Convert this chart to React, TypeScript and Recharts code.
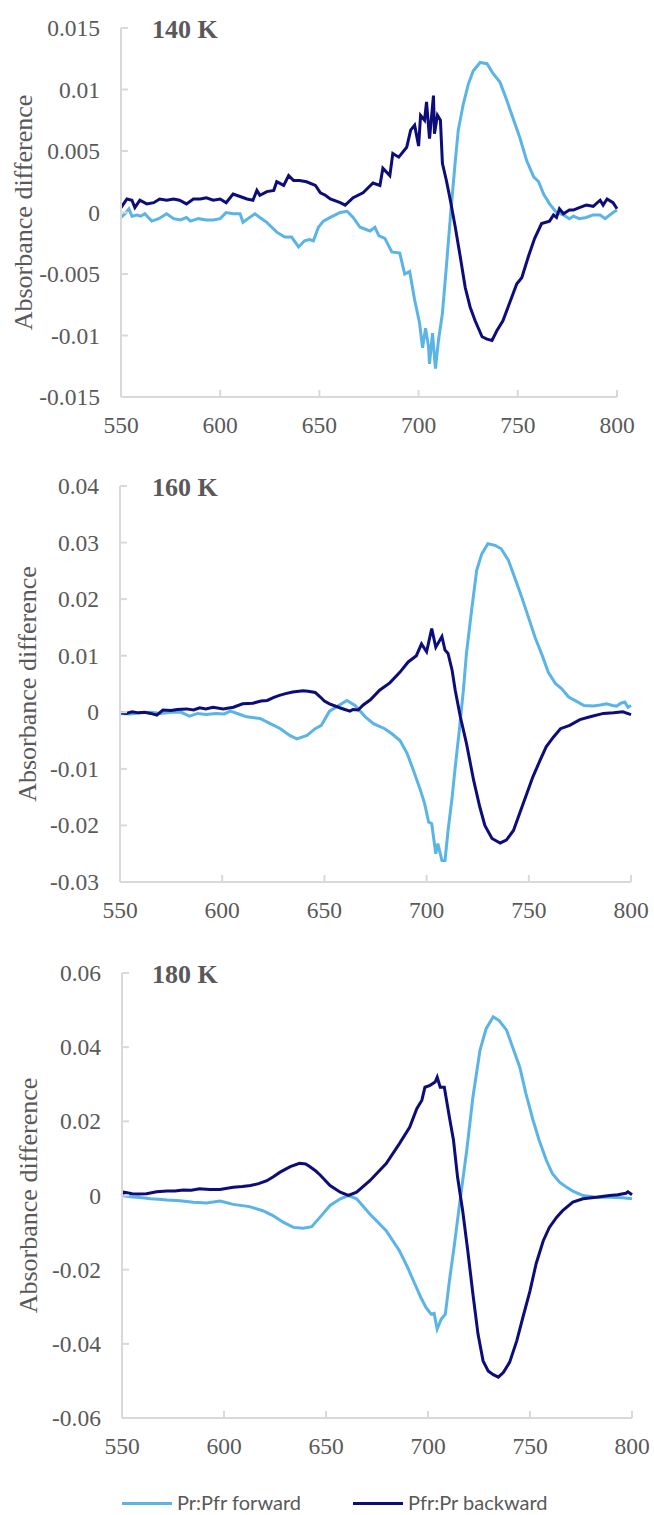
import { Line, LineChart, XAxis, YAxis } from "recharts";

const LIGHT = "#5AB4E6";
const NAVY = "#0C0C7A";
const TEXT = "#595959";
const AXIS = "#D9D9D9";
const SERIF = "'Liberation Serif', 'Times New Roman', serif";
const SANS = "Lato, 'Open Sans', sans-serif";

const xTicks = [550, 600, 650, 700, 750, 800];
const yTicks140 = [-0.015, -0.01, -0.005, 0, 0.005, 0.01, 0.015];
const yTicks160 = [-0.03, -0.02, -0.01, 0, 0.01, 0.02, 0.03, 0.04];
const yTicks180 = [-0.06, -0.04, -0.02, 0, 0.02, 0.04, 0.06];

// 140 K
const fwd140Nm = [
  550, 552, 554, 555.5, 558, 560, 562, 565.5, 569, 573, 576.5, 580, 583, 585,
  589, 593, 596.5, 600, 603, 606.5, 610, 611.5, 614, 617.5, 620, 623.5, 626,
  628.5, 632.5, 636, 639.5, 642.5, 645, 647, 649.5, 652, 655.5, 660.5, 664, 667,
  670.5, 675.5, 678, 680, 683, 686.5, 690.5, 693, 695.5, 698, 700.5, 702, 703.5,
  705, 705.5, 707, 708.5, 710, 712, 714, 716, 718.5, 720, 722.5, 725, 727.5, 731,
  734.5, 737.5, 741, 744.5, 747.5, 751, 754.5, 758, 760.5, 763, 766, 769.5, 773,
  776, 778, 781, 784.5, 788, 791.5, 794, 798, 800,
];
const fwd140 = [
  -0.0004, -0.0001, 0.0003, -0.0003, -0.0002, -0.0003, -0.0001, -0.0007, -0.0005,
  -0.0001, -0.0005, -0.0006, -0.0004, -0.0007, -0.0005, -0.0006, -0.0006, -0.0005,
  0, -0.0001, -0.0001, -0.0008, -0.0005, -0.0001, -0.0004, -0.0008, -0.0012,
  -0.0016, -0.002, -0.002, -0.0028, -0.0023, -0.0022, -0.0023, -0.0012, -0.0007,
  -0.0004, 0, 0.0001, -0.0004, -0.0012, -0.0015, -0.0012, -0.0019, -0.0021,
  -0.0032, -0.0033, -0.005, -0.0048, -0.0071, -0.009, -0.011, -0.0094, -0.0109,
  -0.0123, -0.0098, -0.0127, -0.0104, -0.0082, -0.0044, -0.0004, 0.0042, 0.0067,
  0.0088, 0.0104, 0.0115, 0.0122, 0.0121, 0.0113, 0.0106, 0.0091, 0.0077, 0.0061,
  0.0042, 0.0029, 0.0025, 0.0015, 0.0007, 0, -0.0002, -0.0005, -0.0003, -0.0005,
  -0.0004, -0.0002, -0.0002, -0.0005, 0, 0.0002,
];
const bwd140Nm = [
  550, 553, 555.5, 557, 559.5, 563, 566.5, 569.5, 573, 576.5, 579.5, 583, 586.5,
  590, 593, 596.5, 600, 603, 606.5, 610, 613.5, 616.5, 618.5, 620, 623.5, 627,
  628.5, 632, 634.5, 637, 640, 643.5, 648, 650.5, 653, 655.5, 660.5, 663, 667,
  672, 677, 680.5, 682, 685.5, 687, 690, 694, 696, 698, 700, 701, 703, 704,
  705.5, 707.5, 708, 709.5, 711, 712, 714, 716, 718.5, 721, 723.5, 726, 728.5,
  732, 734.5, 737, 739.5, 742.5, 746, 749.5, 752, 755.5, 758.5, 762, 766, 768,
  769.5, 771, 773, 776, 778, 781, 784.5, 788, 791.5, 793, 795, 798, 800,
];
const bwd140 = [
  0.0004, 0.0011, 0.001, 0.0004, 0.001, 0.0007, 0.0008, 0.0011, 0.001, 0.0011,
  0.001, 0.0007, 0.0011, 0.0011, 0.0012, 0.001, 0.0011, 0.0008, 0.0015, 0.0013,
  0.0011, 0.001, 0.0018, 0.0014, 0.0017, 0.0018, 0.0025, 0.0022, 0.003, 0.0026,
  0.0026, 0.0025, 0.0022, 0.0016, 0.0014, 0.0011, 0.0008, 0.0006, 0.0012, 0.0016,
  0.0024, 0.0022, 0.0036, 0.003, 0.0048, 0.0045, 0.0053, 0.0067, 0.0071, 0.0054,
  0.0079, 0.0075, 0.009, 0.006, 0.0095, 0.0064, 0.0079, 0.0075, 0.004, 0.0026,
  0.001, -0.0012, -0.0036, -0.0061, -0.0077, -0.0088, -0.0101, -0.0103, -0.0104,
  -0.0096, -0.0088, -0.0073, -0.0058, -0.0053, -0.0035, -0.0021, -0.0009, -0.0007,
  -0.0002, -0.0004, 0.0003, -0.0001, 0.0002, 0.0002, 0.0004, 0.0006, 0.0005,
  0.001, 0.0006, 0.0011, 0.0008, 0.0003,
];

// 160 K
const fwd160Nm = [
  550, 555, 560, 565, 570, 575, 580, 584, 588, 592, 597, 601, 604, 608, 612,
  618.5, 623.5, 628.5, 633, 636.5, 641.5, 645.5, 648.5, 652.5, 657, 661, 665,
  670, 674, 679.5, 683, 687, 690.5, 693.5, 697, 699, 701, 702.5, 704.5, 705.5,
  707.5, 709, 710.5, 712.5, 714, 716, 718, 719.5, 722, 724.5, 727, 730, 733.5,
  736.5, 740, 743, 746.5, 750, 753, 756.5, 759.5, 763, 766, 769.5, 772.5, 777,
  781.5, 785, 788, 791, 793, 795, 797, 798.5, 800,
];
const fwd160 = [
  -0.0002, -0.0003, -0.0001, 0, -0.0002, 0, 0, -0.0007, -0.0002, -0.0004, -0.0002,
  -0.0003, 0.0002, -0.0003, -0.0008, -0.0011, -0.002, -0.0029, -0.0041, -0.0047,
  -0.0041, -0.0029, -0.0023, 0.0002, 0.0012, 0.0021, 0.0012, -0.0008, -0.002,
  -0.0029, -0.0038, -0.005, -0.0073, -0.0102, -0.0138, -0.0161, -0.0194, -0.0197,
  -0.025, -0.0232, -0.0262, -0.0262, -0.0209, -0.015, -0.0097, -0.0032, 0.0039,
  0.0104, 0.018, 0.0251, 0.028, 0.0298, 0.0295, 0.0289, 0.0269, 0.0239, 0.0204,
  0.0166, 0.0133, 0.0101, 0.0071, 0.0051, 0.0042, 0.0027, 0.0021, 0.0012, 0.0011,
  0.0013, 0.0015, 0.0012, 0.0011, 0.0016, 0.0018, 0.0009, 0.0012,
];
const bwd160Nm = [
  550, 553, 556, 559, 562, 565, 568, 571, 575, 578, 582.5, 586, 589, 592, 595.5,
  600.5, 605.5, 610, 615, 619, 622, 625, 628, 631, 634.5, 639.5, 642, 645.5, 648,
  650, 652.5, 657.5, 660, 662.5, 664, 666.5, 669, 672.5, 677, 682, 687, 691, 695,
  697.5, 700, 702.5, 704.5, 707.5, 709, 710.5, 712.5, 714, 716.5, 719.5, 723, 726,
  728.5, 732, 736, 739, 742.5, 745.5, 749, 752, 755.5, 758.5, 762, 765.5, 770,
  775, 780, 786.5, 791.5, 796, 800,
];
const bwd160 = [
  -0.0001, -0.0002, 0.0001, -0.0001, 0, -0.0002, -0.0005, 0.0004, 0.0003, 0.0005,
  0.0006, 0.0004, 0.0008, 0.0006, 0.0009, 0.0006, 0.0009, 0.0015, 0.0016, 0.002,
  0.0021, 0.0026, 0.003, 0.0033, 0.0036, 0.0038, 0.0037, 0.0035, 0.0027, 0.002,
  0.0015, 0.0008, 0.0005, 0.0002, 0.0005, 0.0004, 0.0013, 0.0022, 0.0039, 0.0052,
  0.0071, 0.0089, 0.01, 0.0121, 0.0107, 0.0148, 0.0115, 0.0134, 0.011, 0.0104,
  0.0074, 0.0039, -0.0008, -0.0055, -0.012, -0.0167, -0.02, -0.0223, -0.0231,
  -0.0226, -0.0209, -0.0179, -0.0144, -0.0114, -0.0085, -0.0061, -0.0044, -0.0029,
  -0.0023, -0.0013, -0.0008, -0.0002, -0.0001, 0.0001, -0.0004,
];

// 180 K
const fwd180Nm = [
  550, 553, 557, 561, 564, 568, 572, 578.5, 585, 591.5, 598, 601, 604.5, 612.5,
  619, 624, 629, 634, 639, 643, 647, 652, 657, 661, 665, 671.5, 679.5, 686, 690,
  693.5, 696.5, 699, 701.5, 703, 704.5, 706.5, 708.5, 710.5, 713, 715.5, 719, 722,
  725.5, 728.5, 732, 735, 738.5, 741.5, 745, 748, 751.5, 754.5, 758, 761, 764.5,
  768, 771, 776, 782.5, 789, 795.5, 800,
];
const fwd180 = [
  0, -0.0003, -0.0005, -0.0007, -0.0009, -0.001, -0.0012, -0.0014, -0.0018, -0.002,
  -0.0015, -0.0019, -0.0024, -0.003, -0.0041, -0.0054, -0.0072, -0.0086, -0.0088,
  -0.0084, -0.0059, -0.0027, -0.0009, 0, -0.0009, -0.005, -0.0095, -0.0149, -0.0194,
  -0.0238, -0.0275, -0.0302, -0.032, -0.0318, -0.036, -0.0333, -0.032, -0.023,
  -0.013, -0.0022, 0.0122, 0.0265, 0.0392, 0.045, 0.0482, 0.0471, 0.0446, 0.04,
  0.0346, 0.0275, 0.0203, 0.0149, 0.0095, 0.0059, 0.0036, 0.0022, 0.0012, 0,
  -0.0005, -0.0005, -0.0006, -0.0009,
];
const bwd180Nm = [
  550, 551, 555, 558, 562, 567, 572, 576, 580, 584, 588, 593, 598, 604.5, 609,
  613, 617, 621, 624, 627.5, 632.5, 637, 640, 642, 645, 647, 652, 657, 661, 665,
  671.5, 679.5, 686, 691, 694.5, 697, 698.5, 701, 703.5, 704.5, 706, 708, 710.5,
  712.5, 714.5, 717, 719.5, 722, 724.5, 727, 729.5, 732, 734.5, 737, 740, 743.5,
  746.5, 750, 753, 756.5, 759.5, 763, 766, 771, 776, 782.5, 789, 793, 797, 798,
  800,
];
const bwd180 = [
  0, 0.0009, 0.0005, 0.0004, 0.0005, 0.001, 0.0012, 0.0012, 0.0015, 0.0014, 0.0018,
  0.0016, 0.0016, 0.0022, 0.0024, 0.0027, 0.0032, 0.004, 0.005, 0.0063, 0.0078,
  0.0087, 0.0085, 0.0078, 0.0066, 0.0056, 0.0027, 0.0009, 0, 0.0009, 0.004, 0.0086,
  0.014, 0.0184, 0.0234, 0.0257, 0.0292, 0.0297, 0.0306, 0.0319, 0.0292, 0.0292,
  0.0211, 0.0149, 0.0049, -0.0041, -0.0149, -0.0265, -0.0373, -0.0446, -0.0473,
  -0.0483, -0.049, -0.0477, -0.045, -0.0392, -0.0329, -0.0257, -0.0184, -0.0122,
  -0.0086, -0.0059, -0.0041, -0.0018, -0.0009, -0.0005, 0, 0.0002, 0.0006, 0.001,
  0.0002,
];

type Row = { nm: number; fwd?: number; bwd?: number };

// join both spectra on wavelength so one chart can hold them
function mergeRows(fNm: number[], fVal: number[], bNm: number[], bVal: number[]) {
  const rows = new Map<number, Row>();
  fNm.forEach((nm, i) => {
    const r = rows.get(nm) ?? { nm };
    r.fwd = fVal[i];
    rows.set(nm, r);
  });
  bNm.forEach((nm, i) => {
    const r = rows.get(nm) ?? { nm };
    r.bwd = bVal[i];
    rows.set(nm, r);
  });
  return [...rows.values()].sort((a, b) => a.nm - b.nm);
}

function YTick({ x, y, payload }: any) {
  return (
    <g>
      <line x1={x} x2={x + 7} y1={y} y2={y} stroke={AXIS} strokeWidth={2} />
      <text
        x={x - 21}
        y={y + 8}
        textAnchor="end"
        fill={TEXT}
        style={{ fontFamily: SERIF, fontSize: 23.5 }}
      >
        {payload.value}
      </text>
    </g>
  );
}

function XTick({ x, y, payload }: any) {
  return (
    <g>
      <line x1={x} x2={x} y1={y} y2={y - 7} stroke={AXIS} strokeWidth={2} />
      <text
        x={x}
        y={y + 36}
        textAnchor="middle"
        fill={TEXT}
        style={{ fontFamily: SERIF, fontSize: 23.5 }}
      >
        {payload.value}
      </text>
    </g>
  );
}

interface PanelProps {
  title: string;
  rows: Row[];
  yTicks: number[];
  top: number;
  height: number;
  plotLeft: number;
  plotRight: number;
  plotTop: number;
  plotBottom: number;
  labelX: number;
}

function Panel({
  title,
  rows,
  yTicks,
  top,
  height,
  plotLeft,
  plotRight,
  plotTop,
  plotBottom,
  labelX,
}: PanelProps) {
  const width = 654;
  const midY = (plotTop + plotBottom) / 2 - top;

  return (
    <div style={{ position: "absolute", left: 0, top, width, height }}>
      <LineChart
        width={width}
        height={height}
        data={rows}
        margin={{ top: plotTop - top, right: width - plotRight, bottom: 0, left: 0 }}
      >
        <XAxis
          dataKey="nm"
          type="number"
          domain={[550, 800]}
          ticks={xTicks}
          interval={0}
          height={top + height - plotBottom}
          axisLine={{ stroke: AXIS, strokeWidth: 2 }}
          tickLine={false}
          tickSize={0}
          tickMargin={0}
          tick={<XTick />}
        />
        <YAxis
          type="number"
          domain={[yTicks[0], yTicks[yTicks.length - 1]]}
          ticks={yTicks}
          interval={0}
          width={plotLeft}
          axisLine={{ stroke: AXIS, strokeWidth: 2 }}
          tickLine={false}
          tickSize={0}
          tickMargin={0}
          tick={<YTick />}
        />
        <Line
          dataKey="fwd"
          type="linear"
          stroke={LIGHT}
          strokeWidth={3}
          dot={false}
          connectNulls
          isAnimationActive={false}
        />
        <Line
          dataKey="bwd"
          type="linear"
          stroke={NAVY}
          strokeWidth={3}
          dot={false}
          connectNulls
          isAnimationActive={false}
        />
      </LineChart>

      <svg
        width={width}
        height={height}
        style={{ position: "absolute", left: 0, top: 0, pointerEvents: "none" }}
      >
        <text
          x={152}
          y={plotTop - top + 10}
          fill={TEXT}
          style={{ fontFamily: SERIF, fontSize: 26, fontWeight: "bold" }}
        >
          {title}
        </text>
        <text
          transform={`translate(${labelX},${midY}) rotate(-90)`}
          textAnchor="middle"
          fill={TEXT}
          style={{ fontFamily: SERIF, fontSize: 26 }}
        >
          Absorbance difference
        </text>
      </svg>
    </div>
  );
}

const rows140 = mergeRows(fwd140Nm, fwd140, bwd140Nm, bwd140);
const rows160 = mergeRows(fwd160Nm, fwd160, bwd160Nm, bwd160);
const rows180 = mergeRows(fwd180Nm, fwd180, bwd180Nm, bwd180);

export default function App() {
  return (
    <div
      style={{
        position: "absolute",
        left: 0,
        top: 0,
        width: 654,
        height: 1515,
        background: "#fff",
        overflow: "hidden",
      }}
    >
      <Panel
        title="140 K"
        rows={rows140}
        yTicks={yTicks140}
        top={0}
        height={460}
        plotLeft={121}
        plotRight={617}
        plotTop={28}
        plotBottom={397}
        labelX={32}
      />
      <Panel
        title="160 K"
        rows={rows160}
        yTicks={yTicks160}
        top={460}
        height={480}
        plotLeft={120}
        plotRight={631}
        plotTop={486}
        plotBottom={882}
        labelX={36}
      />
      <Panel
        title="180 K"
        rows={rows180}
        yTicks={yTicks180}
        top={950}
        height={540}
        plotLeft={122}
        plotRight={632}
        plotTop={973}
        plotBottom={1418}
        labelX={37}
      />

      {/* legend */}
      <div
        style={{
          position: "absolute",
          left: 0,
          top: 1491,
          width: 654,
          height: 23,
          fontFamily: SANS,
          fontSize: 20,
          color: TEXT,
        }}
      >
        <div style={{ position: "absolute", left: 122, top: 11, width: 50, height: 3, background: LIGHT }} />
        <span style={{ position: "absolute", left: 177, top: 0, lineHeight: "23px", whiteSpace: "nowrap" }}>
          Pr:Pfr forward
        </span>
        <div style={{ position: "absolute", left: 353, top: 11, width: 50, height: 3, background: NAVY }} />
        <span style={{ position: "absolute", left: 408, top: 0, lineHeight: "23px", whiteSpace: "nowrap" }}>
          Pfr:Pr backward
        </span>
      </div>
    </div>
  );
}
